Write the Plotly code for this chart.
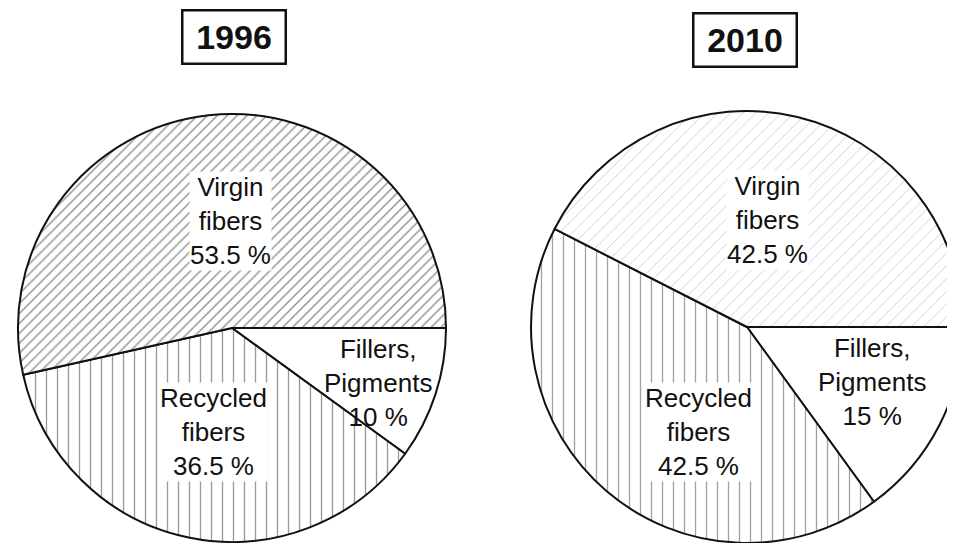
import plotly.graph_objects as go

years = ["1996", "2010"]
categories = ["Virgin fibers", "Recycled fibers", "Fillers, Pigments"]
label_lines = [["Virgin", "fibers"], ["Recycled", "fibers"], ["Fillers,", "Pigments"]]
values_1996 = [53.5, 36.5, 10.0]
values_2010 = [42.5, 42.5, 15.0]
value_text_1996 = ["53.5 %", "36.5 %", "10 %"]
value_text_2010 = ["42.5 %", "42.5 %", "15 %"]

W, H = 955, 543
OFF = 8  # default page body margin
FONT = "Liberation Sans, Arial, sans-serif"

def px(x):
    return (x - OFF) / W

def py(y):
    return 1 - (y - OFF) / H

# pie layouts (window pixel centre and radius)
pies = [
    dict(cx=232, cy=328, r=214),
    dict(cx=747, cy=327, r=216),
]

patterns = [
    [dict(shape="/", size=7, solidity=0.2, fgcolor="#222222"),
     dict(shape="|", size=11, solidity=0.12, fgcolor="#333333"),
     dict(shape="", size=8, solidity=0.2, fgcolor="black")],
    [dict(shape="/", size=9, solidity=0.1, fgcolor="#9a9a9a"),
     dict(shape="|", size=11, solidity=0.12, fgcolor="#444444"),
     dict(shape="", size=8, solidity=0.2, fgcolor="black")],
]

fig = go.Figure()
for i, (vals, p) in enumerate(zip([values_1996, values_2010], pies)):
    pat = patterns[i][::-1]
    fig.add_trace(go.Pie(
        labels=categories[::-1],
        values=vals[::-1],
        sort=False,
        direction="clockwise",
        rotation=90,
        textinfo="none",
        hoverinfo="label+value",
        showlegend=False,
        marker=dict(
            colors=["white", "white", "white"],
            line=dict(color="#111111", width=2),
            pattern=dict(
                shape=[pt["shape"] for pt in pat],
                size=[pt["size"] for pt in pat],
                solidity=[pt["solidity"] for pt in pat],
                fgcolor=[pt["fgcolor"] for pt in pat],
                bgcolor=["white"] * 3,
                fillmode="overlay",
            ),
        ),
        domain=dict(x=[max(0, px(p["cx"] - p["r"])), min(1, px(p["cx"] + p["r"]))],
                    y=[max(0, py(p["cy"] + p["r"])), min(1, py(p["cy"] - p["r"]))]),
    ))

# label anchor positions in window pixels: (x, y) centre of the text block
label_pos = [
    [(230, 221), (213, 432), (378, 383)],
    [(767, 220), (698, 432), (872, 382)],
]
value_texts = [value_text_1996, value_text_2010]

annotations = []
for i in range(2):
    for j, lines in enumerate(label_lines):
        x, y = label_pos[i][j]
        txt = "<br>".join(lines + [value_texts[i][j]])
        annotations.append(dict(
            x=px(x), y=py(y), xref="paper", yref="paper",
            text=txt, showarrow=False, align="center",
            font=dict(family=FONT, size=26, color="#111111"),
            bgcolor="white" if j != 2 else "rgba(255,255,255,0)",
            borderpad=0,
            xanchor="center", yanchor="middle",
        ))

title_pos = [(234, 37), (745, 40)]
for yr, (x, y) in zip(years, title_pos):
    annotations.append(dict(
        x=px(x), y=py(y), xref="paper", yref="paper",
        text="<b>" + yr + "</b>", showarrow=False,
        font=dict(family=FONT, size=34, color="#111111"),
        width=101, height=51,
        bordercolor="#111111", borderwidth=2.5, borderpad=0,
        bgcolor="white",
        xanchor="center", yanchor="middle",
    ))

fig.update_layout(
    width=W, height=H,
    margin=dict(l=0, r=0, t=0, b=0),
    paper_bgcolor="white",
    plot_bgcolor="white",
    annotations=annotations,
)

fig.write_html("out.html")
